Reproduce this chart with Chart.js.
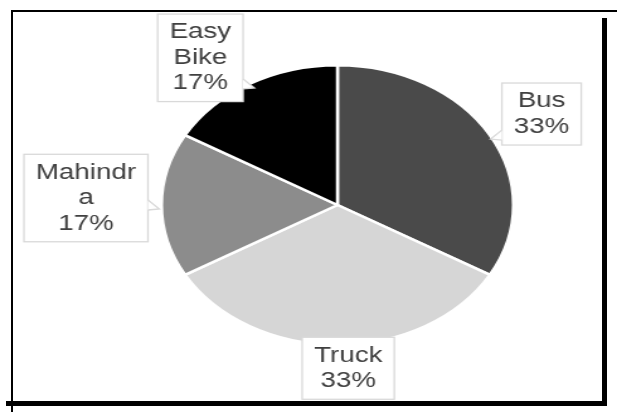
<!DOCTYPE html>
<html>
<head>
<meta charset="utf-8">
<script src="https://cdn.jsdelivr.net/npm/chart.js@4.4.1/dist/chart.umd.min.js"></script>
<style>
  html, body { margin: 0; padding: 0; background: #fff; }
  body { width: 617px; height: 412px; position: relative; overflow: hidden; }
  /* the source picture is stretched sideways, so the whole chart is drawn narrow and scaled */
  #stretch { position: absolute; left: 0; top: 0; width: 490px; height: 412px; transform: scaleX(1.2592); transform-origin: 0 0; }
  .rule { position: absolute; background: #000; }
</style>
</head>
<body>
<div id="stretch"><canvas id="pie" width="490" height="412"></canvas></div>
<div class="rule" style="left:11px;top:10px;width:606px;height:2px"></div>
<div class="rule" style="left:11px;top:10px;width:2px;height:402px"></div>
<div class="rule" style="left:602px;top:18px;width:5px;height:388px"></div>
<div class="rule" style="left:6px;top:401px;width:601px;height:5px"></div>
<script>
// Vehicle type share
const categories = ['Bus', 'Truck', 'Mahindra', 'Easy Bike'];
const counts = [2, 2, 1, 1];
const sliceColors = ['#4a4a4a', '#d6d6d6', '#8c8c8c', '#000000'];

// callout placement: distance as a multiple of the radius, and a small turn off the slice middle (degrees)
const labelDistance = [1.33, 1.17, 1.43, 1.31];
const labelTurn = [0.7, -3, 2, -6.5];

const LINE_H = 25.5;
const PAD_X = 9.5;
const PAD_Y = 5.5;
const MAX_TEXT_W = 82;

function wrapText(ctx, text, maxW) {
    const lines = [];
    let line = '';
    text.split(' ').forEach(word => {
        const test = line ? line + ' ' + word : word;
        if (ctx.measureText(test).width <= maxW) {
            line = test;
            return;
        }
        if (line) lines.push(line);
        // word too long on its own: break it by characters
        line = '';
        for (const ch of word) {
            if (ctx.measureText(line + ch).width > maxW && line) {
                lines.push(line);
                line = ch;
            } else {
                line += ch;
            }
        }
    });
    if (line) lines.push(line);
    return lines;
}

const calloutPlugin = {
    id: 'callouts',
    afterDatasetsDraw(chart) {
        const ctx = chart.ctx;
        const meta = chart.getDatasetMeta(0);
        const values = chart.data.datasets[0].data;
        const total = values.reduce((a, b) => a + b, 0);

        ctx.save();
        ctx.font = '22px "Liberation Sans", Arial, sans-serif';

        meta.data.forEach((arc, i) => {
            const p = arc.getProps(['x', 'y', 'startAngle', 'endAngle', 'outerRadius'], true);
            const mid = (p.startAngle + p.endAngle) / 2;
            const ang = mid + labelTurn[i] * Math.PI / 180;
            const cx = p.x + Math.cos(ang) * p.outerRadius * labelDistance[i];
            const cy = p.y + Math.sin(ang) * p.outerRadius * labelDistance[i];

            const lines = wrapText(ctx, chart.data.labels[i], MAX_TEXT_W);
            lines.push(Math.round(values[i] / total * 100) + '%');
            const textW = Math.max(...lines.map(l => ctx.measureText(l).width));
            const w = textW + PAD_X * 2;
            const h = lines.length * LINE_H + PAD_Y * 2;
            const x0 = cx - w / 2, y0 = cy - h / 2, x1 = x0 + w, y1 = y0 + h;

            ctx.fillStyle = '#ffffff';
            ctx.strokeStyle = '#d9d9d9';
            ctx.lineWidth = 1.3;
            ctx.fillRect(x0, y0, w, h);
            ctx.strokeRect(x0, y0, w, h);

            // small pointer toward the slice edge
            const tx = p.x + Math.cos(mid) * p.outerRadius;
            const ty = p.y + Math.sin(mid) * p.outerRadius;
            let base = null;
            if (tx < x0 || tx > x1) {
                const ex = tx < x0 ? x0 : x1;
                const by = Math.min(Math.max(ty, y0 + 8), y1 - 8);
                base = [[ex, by - 5], [ex, by + 5], [ex + (tx < x0 ? -9 : 9), by + 4]];
            } else if (ty < y0 || ty > y1) {
                const ey = ty < y0 ? y0 : y1;
                const bx = Math.min(Math.max(tx, x0 + 8), x1 - 8);
                base = [[bx - 5, ey], [bx + 5, ey], [bx + 4, ey + (ty < y0 ? -9 : 9)]];
            }
            if (base) {
                ctx.beginPath();
                ctx.moveTo(base[0][0], base[0][1]);
                ctx.lineTo(base[2][0], base[2][1]);
                ctx.lineTo(base[1][0], base[1][1]);
                ctx.closePath();
                ctx.fill();
                ctx.beginPath();
                ctx.moveTo(base[0][0], base[0][1]);
                ctx.lineTo(base[2][0], base[2][1]);
                ctx.lineTo(base[1][0], base[1][1]);
                ctx.stroke();
            }

            ctx.fillStyle = '#404040';
            ctx.textAlign = 'center';
            ctx.textBaseline = 'middle';
            lines.forEach((l, k) => {
                ctx.fillText(l, cx, y0 + PAD_Y + LINE_H * (k + 0.5));
            });
        });
        ctx.restore();
    }
};

new Chart(document.getElementById('pie'), {
    type: 'pie',
    data: {
        labels: categories,
        datasets: [{
            data: counts,
            backgroundColor: sliceColors,
            borderColor: '#ffffff',
            borderWidth: 2.5
        }]
    },
    options: {
        responsive: false,
        animation: false,
        events: [],
        layout: {
            padding: { left: 127, right: 81, top: 64, bottom: 66 }
        },
        plugins: {
            legend: { display: false },
            tooltip: { enabled: false },
            title: { display: false }
        }
    },
    plugins: [calloutPlugin]
});
</script>
</body>
</html>
